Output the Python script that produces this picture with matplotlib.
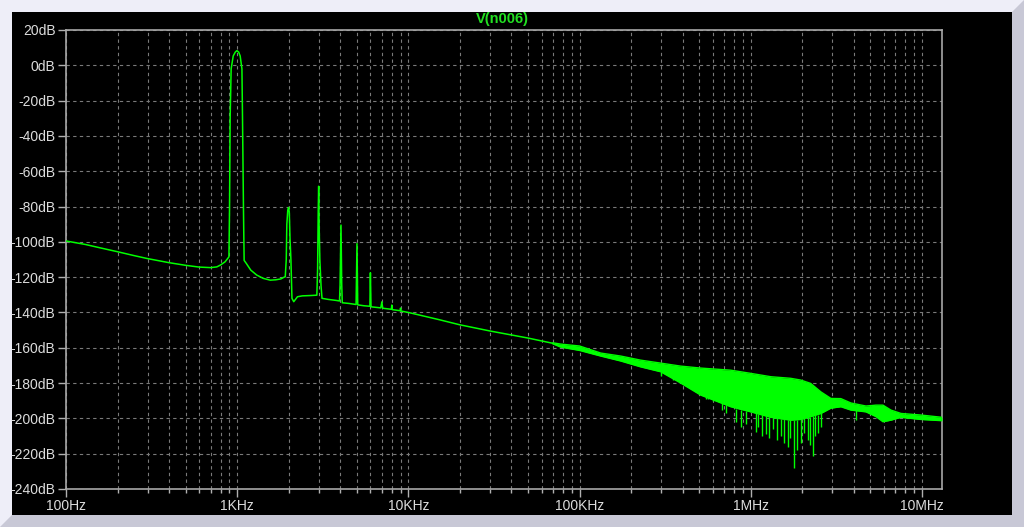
import numpy as np
import matplotlib
matplotlib.use("Agg")
import matplotlib.pyplot as plt
from matplotlib.patches import Rectangle, Polygon
from matplotlib.ticker import FixedLocator, NullFormatter

# main trace, 100Hz .. 70kHz (freq Hz, level dB)
trace_f = [100, 130, 160, 200, 250, 300, 400, 500, 600, 700, 760, 800, 850, 895,
           902, 910, 922, 948, 975, 996, 1020, 1041, 1066, 1074, 1089, 1098,
           1130, 1200, 1300, 1420, 1560, 1680, 1800, 1880, 1909,
           1935, 1950, 1975, 1995, 2015, 2035, 2060, 2089, 2140, 2250, 2400, 2700, 2920,
           2950, 2975, 2992, 3010, 3040, 3090, 3130, 3400, 3800, 3960,
           3990, 4040, 4080, 4110, 4500, 4950, 5010, 5060, 5500, 5960, 6000, 6050,
           6900, 7000, 7080, 7950, 8000, 8060, 8950, 9000, 9050,
           10000, 12000, 15000, 20000, 30000, 50000, 70000]
trace_db = [-99.5, -101.5, -103.5, -105.6, -107.8, -109.5, -111.8, -113.3, -114.3, -114.6, -114.2, -113.1, -111.3, -108.5,
            -82, -29, -2, 5.3, 7.5, 8.3, 7.5, 5.3, -2, -29, -84, -110.5,
            -112.2, -116, -118.8, -120.7, -121.7, -121.5, -121, -120, -119.8,
            -110, -90, -82, -80.5, -83, -98, -110, -132, -133.9, -131.1, -130.6, -130.4, -130.2,
            -115, -82, -68.5, -90, -110, -125, -132, -132.6, -133.2, -133.5,
            -124.5, -90.5, -124, -134.5, -134.9, -135.5, -101, -135.7, -136.2, -136.5, -117.5, -136.8,
            -137.4, -134, -137.6, -138.2, -135.8, -138.4, -139, -137.5, -139.2,
            -140, -141.8, -144, -147, -150.5, -154.5, -157.5]

# noisy band above ~70kHz: upper / lower envelope
band_f = [70e3, 77.4e3, 100e3, 133e3, 174e3, 227e3, 298e3, 390e3, 510e3, 764e3, 1e6, 1.31e6,
          1.71e6, 1.96e6, 2.24e6, 2.57e6, 2.94e6, 3.36e6, 3.85e6, 4.71e6, 5.39e6, 5.92e6,
          6.59e6, 7.54e6, 9.86e6, 13.1e6]
band_hi = [-157.2, -157.9, -159.0, -163.0, -164.7, -167.0, -168.7, -170.4, -171.5, -172.7, -174.5, -176.4,
           -177.3, -178.3, -180.2, -185.0, -188.7, -188.8, -191.3, -193.0, -192.5, -192.5,
           -195.3, -197.2, -198.1, -199.4]
band_lo = [-157.8, -159.6, -161.5, -164.7, -167.5, -170.8, -173.6, -180.0, -186.8, -193.4, -196.3, -199.4,
           -201.0, -200.6, -199.0, -197.2, -194.2, -193.4, -195.3, -196.3, -199.0, -201.9,
           -201.0, -199.4, -200.6, -201.3]

# downward spikes in the band
spike_f = [300e3, 350e3, 406e3, 446e3, 477e3, 545e3, 560e3, 600e3, 683e3, 714e3, 817e3, 875e3,
           935e3, 1.07e6, 1.11e6, 1.17e6, 1.22e6, 1.27e6, 1.35e6, 1.43e6, 1.50e6, 1.56e6,
           1.64e6, 1.69e6, 1.78e6, 1.86e6, 1.96e6, 2.04e6, 2.15e6, 2.21e6, 2.30e6, 2.37e6,
           2.46e6, 2.57e6, 4.11e6]
spike_base = [-173.6, -176.5, -180.5, -182.5, -184.5, -187.5, -188, -189.5, -191.5, -192.5, -194.5, -195,
              -196, -197, -197.3, -198, -198.5, -199, -199.5, -200, -200.3, -200.5,
              -200.8, -201, -201, -200.8, -200.6, -200, -199.4, -199, -198.8, -198.3,
              -197.8, -197.2, -195]
spike_tip = [-176, -178, -180, -183, -185, -189, -189, -190, -195, -197, -202, -204.8,
             -203, -207.6, -205, -210, -209, -211.3, -206, -212.3, -210, -214,
             -216, -211, -228.3, -218, -214, -208, -212, -215, -221.4, -210,
             -208.5, -205, -201]

xticks = [1e2, 1e3, 1e4, 1e5, 1e6, 1e7]
xlabels = ["100Hz", "1KHz", "10KHz", "100KHz", "1MHz", "10MHz"]
yticks = list(range(-240, 21, 20))
ylabels = ["%ddB" % v for v in yticks]

W, H = 1024, 527
fig = plt.figure(figsize=(W / 100, H / 100), dpi=100)
fig.patch.set_facecolor("#eeeef8")

def px(x, y):
    return (x / W, 1 - y / H)

# bevel + black panel
fig.add_artist(Polygon([px(1024, 0), px(1024, 527), px(0, 527), px(12, 515), px(1012, 515), px(1012, 12)],
                       closed=True, transform=fig.transFigure, facecolor="#c8c8d6", edgecolor="none", zorder=-5))
fig.add_artist(Rectangle(px(12, 515), 1000 / W, 503 / H, transform=fig.transFigure,
                         facecolor="black", edgecolor="none", zorder=-4))

ax = fig.add_axes([66 / W, 1 - 489 / H, 876 / W, 459 / H])
ax.set_facecolor("black")

green = "#00ff00"
ax.plot(trace_f, trace_db, color=green, lw=1.1, zorder=3)
ax.fill_between(band_f, band_lo, band_hi, color=green, lw=0, zorder=3)
ax.plot(band_f, band_hi, color=green, lw=1.0, zorder=3)
ax.plot(band_f, band_lo, color=green, lw=1.0, zorder=3)
ax.vlines(spike_f, spike_tip, spike_base, color=green, lw=1.0, zorder=3)

ax.set_xscale("log")
ax.set_xlim(100, 13.1e6)
ax.set_ylim(-240, 20)

minors = [m * d for d in [1e2, 1e3, 1e4, 1e5, 1e6] for m in range(2, 10)] + [2e7]
ax.xaxis.set_major_locator(FixedLocator(xticks))
ax.xaxis.set_minor_locator(FixedLocator(minors))
ax.xaxis.set_minor_formatter(NullFormatter())
ax.set_xticks(xticks)
ax.set_xticklabels(xlabels)
ax.set_yticks(yticks)
ax.set_yticklabels(ylabels)

for lab in ax.get_xticklabels() + ax.get_yticklabels():
    lab.set_fontfamily("Liberation Sans")
    lab.set_fontsize(10)

ax.tick_params(axis="both", which="major", length=6, width=1, color="#b0b0b0",
               labelcolor="#dcdcdc", direction="out", pad=1.5)
ax.tick_params(axis="x", which="minor", length=3, width=1, color="#b0b0b0", direction="out")

ax.grid(which="both", axis="x", color="#7a7a7a", ls=(0, (3, 3)), lw=0.8, zorder=1)
ax.grid(which="major", axis="y", color="#7a7a7a", ls=(0, (3, 3)), lw=0.8, zorder=1)
ax.set_axisbelow(True)
for s in ax.spines.values():
    s.set_color("#a8a8a8")
    s.set_linewidth(1.2)

fig.text(502 / W, 1 - 19 / H, "V(n006)", color="#22e022", ha="center", va="center",
         fontsize=10.5, family="Liberation Sans", fontweight="bold")

fig.savefig("out.png", dpi=100, facecolor=fig.get_facecolor())
